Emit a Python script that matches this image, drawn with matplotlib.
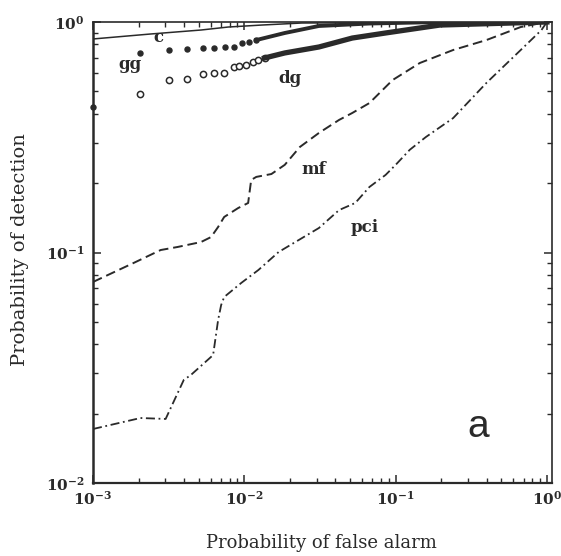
import matplotlib
matplotlib.use("Agg")
import matplotlib.pyplot as plt
from matplotlib.ticker import LogLocator, NullFormatter, FixedLocator, FixedFormatter

# ---- data ----
mf_x = [0.001, 0.00185, 0.0028, 0.00363, 0.00517, 0.00603, 0.00671, 0.00736, 0.00912, 0.0106,
        0.0111, 0.0120, 0.0151, 0.0185, 0.0233, 0.0311, 0.0423, 0.0517, 0.0671, 0.0955,
        0.1445, 0.240, 0.398, 0.671, 1.0]
mf_y = [0.0745, 0.090, 0.1025, 0.1057, 0.111, 0.1167, 0.129, 0.1426, 0.156, 0.164,
        0.2064, 0.2128, 0.219, 0.240, 0.287, 0.330, 0.376, 0.403, 0.445, 0.560,
        0.664, 0.756, 0.835, 0.951, 1.0]

pci_x = [0.001, 0.00206, 0.00302, 0.00398, 0.00443, 0.00622, 0.00671, 0.00703, 0.00736, 0.00955,
         0.0124, 0.01686, 0.0229, 0.0311, 0.0423, 0.0541, 0.0671, 0.0858, 0.1, 0.124,
         0.1585, 0.240, 0.398, 0.671, 0.92, 1.0]
pci_y = [0.01715, 0.01914, 0.01896, 0.0280, 0.0294, 0.0359, 0.0509, 0.0592, 0.0641, 0.0738,
         0.0840, 0.1005, 0.1133, 0.1277, 0.1528, 0.164, 0.1924, 0.217, 0.240, 0.279,
         0.317, 0.383, 0.544, 0.756, 0.923, 1.0]

c_x = [0.001, 0.0024, 0.00517, 0.00782, 0.0130, 0.024, 1.0]
c_y = [0.844, 0.887, 0.923, 0.951, 0.970, 0.990, 1.0]

gg_x = [0.001, 0.00206, 0.00316, 0.00417, 0.00533, 0.0063, 0.00747, 0.00858, 0.0097, 0.0108, 0.0120]
gg_y = [0.428, 0.734, 0.756, 0.764, 0.771, 0.771, 0.779, 0.779, 0.811, 0.819, 0.835]
gg_dense_x = [0.0120, 0.0185, 0.0311, 0.067, 0.196, 1.0]
gg_dense_y = [0.835, 0.896, 0.961, 0.985, 1.0, 1.0]

dg_x = [0.00203, 0.00316, 0.00417, 0.00533, 0.0063, 0.00736, 0.00858, 0.00927, 0.0103, 0.01148, 0.0124, 0.0136]
dg_y = [0.487, 0.560, 0.566, 0.595, 0.601, 0.601, 0.638, 0.645, 0.651, 0.671, 0.684, 0.698]
dg_dense_x = [0.0136, 0.0185, 0.0311, 0.0517, 0.0858, 0.1445, 0.196, 1.0]
dg_dense_y = [0.698, 0.734, 0.779, 0.852, 0.896, 0.942, 0.970, 1.0]

x_ticks = [1e-3, 1e-2, 1e-1, 1e0]
x_tick_labels = ["$\\mathbf{10^{-3}}$", "$\\mathbf{10^{-2}}$", "$\\mathbf{10^{-1}}$", "$\\mathbf{10^{0}}$"]
y_ticks = [1e-2, 1e-1, 1e0]
y_tick_labels = ["$\\mathbf{10^{-2}}$", "$\\mathbf{10^{-1}}$", "$\\mathbf{10^{0}}$"]

# ---- figure ----
plt.rcParams['font.family'] = ['DejaVu Serif']
plt.rcParams['mathtext.fontset'] = 'dejavuserif'
ink = '#2a2a2a'

fig = plt.figure(figsize=(5.61, 5.56), dpi=100)
ax = fig.add_axes([93/561, 73/556, (552-93)/561, (483-22)/556])
ax.set_xscale('log')
ax.set_yscale('log')
ax.set_xlim(1e-3, 1.08)
ax.set_ylim(1e-2, 1.0)

ax.plot(mf_x, mf_y, color=ink, lw=1.4, linestyle=(0, (5, 2.5)))
ax.plot(pci_x, pci_y, color=ink, lw=1.3, linestyle=(0, (5, 2, 1, 2)))
ax.plot(c_x, c_y, color=ink, lw=1.1, solid_capstyle='butt')
ax.plot(gg_x, gg_y, linestyle='none', marker='o', ms=3.6, color=ink, clip_on=False)
ax.plot(gg_dense_x, gg_dense_y, color=ink, lw=2.8)
ax.plot(dg_x, dg_y, linestyle='none', marker='o', ms=4.5, mfc='white', mec=ink, mew=1.1)
ax.plot(dg_dense_x, dg_dense_y, color=ink, lw=3.8)

# curve labels
lab = dict(color=ink, fontsize=12, fontweight='bold', ha='center', va='center')
ax.text(0.00269, 0.853, 'c', **lab)
ax.text(0.00176, 0.651, 'gg', **lab)
ax.text(0.0200, 0.571, 'dg', **lab)
ax.text(0.0289, 0.228, 'mf', **lab)
ax.text(0.0628, 0.129, 'pci', **lab)
ax.text(0.351, 0.0175, 'a', color=ink, fontsize=28, family='Liberation Sans', ha='center', va='center')

# ticks
ax.xaxis.set_major_locator(FixedLocator(x_ticks))
ax.xaxis.set_major_formatter(FixedFormatter(x_tick_labels))
ax.yaxis.set_major_locator(FixedLocator(y_ticks))
ax.yaxis.set_major_formatter(FixedFormatter(y_tick_labels))
ax.xaxis.set_minor_locator(LogLocator(base=10, subs=range(2, 10), numticks=20))
ax.yaxis.set_minor_locator(LogLocator(base=10, subs=range(2, 10), numticks=20))
ax.xaxis.set_minor_formatter(NullFormatter())
ax.yaxis.set_minor_formatter(NullFormatter())
ax.tick_params(which='both', direction='in', top=True, right=True, color=ink, labelcolor=ink)
ax.tick_params(which='major', length=6, width=1.1, labelsize=11, pad=6)
ax.tick_params(which='minor', length=3.5, width=1.0)
ax.tick_params(axis='x', which='major', pad=5)

for side, sp in ax.spines.items():
    sp.set_color(ink)
    sp.set_linewidth(1.2)
ax.spines['left'].set_linewidth(1.8)
ax.spines['bottom'].set_linewidth(1.6)

fig.text(321/561, 1 - 543/556, 'Probability of false alarm', ha='center', va='center',
         fontsize=13, color=ink)
fig.text(20/561, 1 - 250/556, 'Probability of detection', ha='center', va='center',
         rotation=90, fontsize=14, color=ink)

fig.savefig('out.png', dpi=100, facecolor='white')
